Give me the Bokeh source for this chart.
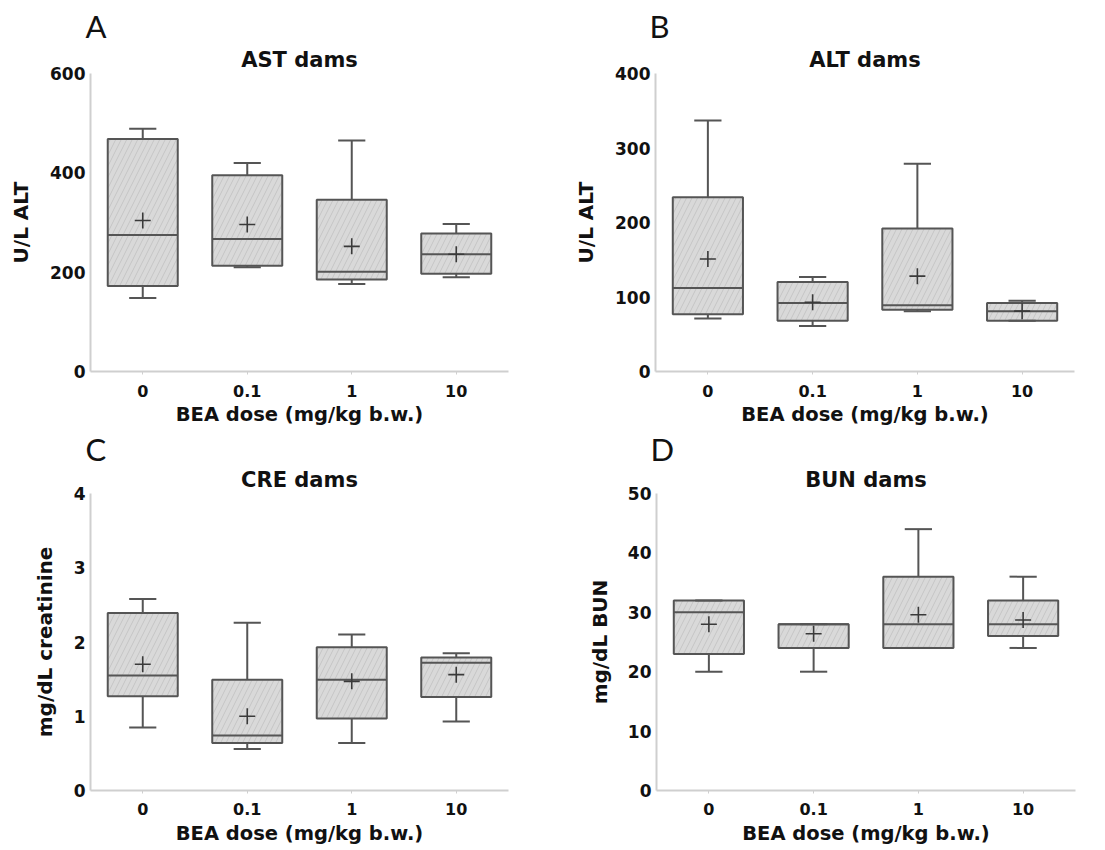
from bokeh.plotting import figure
from bokeh.models import ColumnDataSource, FactorRange, Range1d, FixedTicker, Title
from bokeh.transform import dodge
from bokeh.layouts import column, row
from bokeh.embed import file_html
from bokeh.resources import INLINE

# ---------------- data ----------------
doses = ["0", "0.1", "1", "10"]

# A: AST dams (U/L)
ast_q1 = [172, 213, 185, 197]
ast_q3 = [468, 395, 346, 278]
ast_med = [275, 267, 201, 236]
ast_mean = [304, 296, 252, 236]
ast_lo = [148, 210, 176, 190]
ast_hi = [489, 420, 465, 297]

# B: ALT dams (U/L)
alt_q1 = [77, 68, 83, 68]
alt_q3 = [234, 120, 192, 92]
alt_med = [112, 92, 89, 81]
alt_mean = [151, 93, 128, 81]
alt_lo = [71, 61, 81, 68]
alt_hi = [337, 127, 279, 95]

# C: CRE dams (mg/dL)
cre_q1 = [1.27, 0.64, 0.97, 1.26]
cre_q3 = [2.39, 1.49, 1.93, 1.79]
cre_med = [1.55, 0.74, 1.49, 1.72]
cre_mean = [1.70, 1.00, 1.47, 1.56]
cre_lo = [0.85, 0.56, 0.64, 0.93]
cre_hi = [2.58, 2.26, 2.10, 1.85]

# D: BUN dams (mg/dL)
bun_q1 = [23, 24, 24, 26]
bun_q3 = [32, 28, 36, 32]
bun_med = [30, 28, 28, 28]
bun_mean = [28, 26.4, 29.6, 28.7]
bun_lo = [20, 20, 24, 24]
bun_hi = [32, 28, 44, 36]

xlabel = "BEA dose (mg/kg b.w.)"

FONT = "DejaVu Sans"
DARK = "#555555"
AXIS = "#cfcfcf"
TXT = "#111111"


def panel(letter, title, ylabel, yend, yticks, q1, q3, med, mean, lo, hi,
          width, height, mbl, mbr, mbt, mbb, ylab_sd, tick_sd, xlab_sd, letter_off, letter_sd):
    src = ColumnDataSource(dict(x=doses, q1=q1, q3=q3, med=med, mean=mean, lo=lo, hi=hi))
    p = figure(x_range=FactorRange(factors=doses, range_padding=0),
               y_range=Range1d(0, yend), width=width, height=height,
               output_backend="svg", toolbar_location=None, title=None,
               min_border_left=mbl, min_border_right=mbr,
               min_border_top=mbt, min_border_bottom=mbb)
    p.outline_line_color = None
    p.grid.visible = False
    p.background_fill_color = "white"
    p.border_fill_color = "white"

    # titles
    t = Title(text=title, align="center", text_font=FONT, text_font_size="21px",
              text_font_style="bold", text_color=TXT, standoff=3)
    p.add_layout(t, "above")
    lt = Title(text=letter, align="left", offset=letter_off, text_font="Lato",
               text_font_size="31px", text_font_style="normal", text_color=TXT,
               standoff=letter_sd)
    p.add_layout(lt, "above")

    # axes
    xa = p.xaxis[0]
    ya = p.yaxis[0]
    for ax in (xa, ya):
        ax.axis_line_color = AXIS
        ax.axis_line_width = 2
        ax.minor_tick_line_color = None
        ax.major_tick_in = 0
        ax.major_label_text_font = FONT
        ax.major_label_text_font_style = "bold"
        ax.major_label_text_color = TXT
        ax.axis_label_text_font = FONT
        ax.axis_label_text_font_style = "bold"
        ax.axis_label_text_color = TXT
    xa.major_tick_out = 3
    xa.major_tick_line_color = AXIS
    xa.major_label_text_font_size = "16px"
    xa.major_label_standoff = tick_sd
    xa.axis_label = xlabel
    xa.axis_label_text_font_size = "19.5px"
    xa.axis_label_standoff = xlab_sd

    ya.ticker = FixedTicker(ticks=yticks)
    ya.major_tick_out = 0
    ya.major_tick_line_color = None
    ya.major_label_text_font_size = "17px"
    ya.major_label_standoff = 5
    ya.axis_label = ylabel
    ya.axis_label_text_font_size = "20px"
    ya.axis_label_standoff = ylab_sd

    # whisker stems (under boxes)
    p.segment(x0="x", y0="q3", x1="x", y1="hi", source=src, line_color=DARK, line_width=2)
    p.segment(x0="x", y0="lo", x1="x", y1="q1", source=src, line_color=DARK, line_width=2)
    # boxes
    p.vbar(x="x", bottom="q1", top="q3", width=0.67, source=src,
           fill_color="#d9d9d9", line_color=DARK, line_width=2,
           hatch_pattern="/", hatch_color="#c5c5c5", hatch_weight=1, hatch_scale=11)
    # medians
    p.segment(x0=dodge("x", -0.335, range=p.x_range), y0="med",
              x1=dodge("x", 0.335, range=p.x_range), y1="med",
              source=src, line_color=DARK, line_width=2)
    # whisker caps
    for col in ("hi", "lo"):
        p.segment(x0=dodge("x", -0.13, range=p.x_range), y0=col,
                  x1=dodge("x", 0.13, range=p.x_range), y1=col,
                  source=src, line_color=DARK, line_width=2)
    # means
    p.scatter(x="x", y="mean", source=src, marker="cross", size=16,
              line_color="#3a3a3a", line_width=1.6)
    return p


pA = panel("A", "AST dams", "U/L ALT", 600, [0, 200, 400, 600],
           ast_q1, ast_q3, ast_med, ast_mean, ast_lo, ast_hi,
           545, 428, 90, 37, 73, 57, 14, 10, 3, -5, 0)
pB = panel("B", "ALT dams", "U/L ALT", 400, [0, 100, 200, 300, 400],
           alt_q1, alt_q3, alt_med, alt_mean, alt_lo, alt_hi,
           560, 428, 110, 31, 73, 57, 14, 10, 3, -6, 0)
pC = panel("C", "CRE dams", "mg/dL creatinine", 4, [0, 1, 2, 3, 4],
           cre_q1, cre_q3, cre_med, cre_mean, cre_lo, cre_hi,
           545, 422, 90, 37, 65, 60, 14, 9, 4, -5, -6)
pD = panel("D", "BUN dams", "mg/dL BUN", 50, [0, 10, 20, 30, 40, 50],
           bun_q1, bun_q3, bun_med, bun_mean, bun_lo, bun_hi,
           560, 422, 111, 30, 65, 60, 13, 9, 4, -6, -6)

layout = column(row(pA, pB, spacing=0), row(pC, pD, spacing=0), spacing=0)

open("out.html", "w").write(file_html(layout, INLINE))
